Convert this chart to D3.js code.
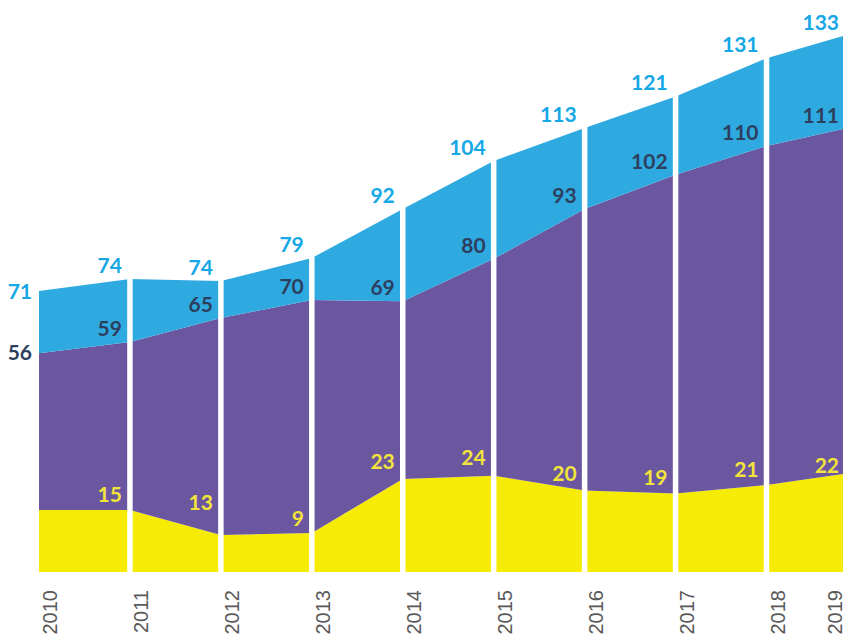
<!DOCTYPE html>
<html>
<head>
<meta charset="utf-8">
<script src="https://cdn.jsdelivr.net/npm/d3@7/dist/d3.min.js"></script>
<style>
  html, body { margin: 0; padding: 0; background: #ffffff; }
  svg { display: block; }
</style>
</head>
<body>
<svg id="chart" width="851" height="639"></svg>
<script>
// ---- data ----
const years = [2010, 2011, 2012, 2013, 2014, 2015, 2016, 2017, 2018, 2019];
// layer thicknesses as drawn
const yellowVals = [15.4, 15.4, 9.2, 9.7, 23.1, 23.9, 20.2, 19.5, 21.6, 24.3];
const purpleVals = [38.9, 41.7, 53.8, 57.8, 44.1, 53.8, 69.9, 79.1, 84.1, 85.6];
const blueVals   = [15.4, 15.6, 9.2, 10.4, 22.9, 24.3, 20.1, 19.4, 21.8, 23.1];
// value labels as printed
const totalLabels = [71, 74, 74, 79, 92, 104, 113, 121, 131, 133];
const midLabels   = [56, 59, 65, 70, 69, 80, 93, 102, 110, 111];
const baseLabels  = [null, 15, 13, 9, 23, 24, 20, 19, 21, 22];
const yearLabels  = years.map(String);

// ---- setup ----
const svg = d3.select("#chart");
const colors = { yellow: "#F6EB05", purple: "#6B56A0", blue: "#2EAAE1" };
const labelColors = { yellow: "#F2E43A", purple: "#2C3F5E", blue: "#16A8E6" };

const x = d3.scaleLinear()
  .domain([2010, 2018, 2019])
  .range([39, 766.5, 843]);
const y = d3.scaleLinear().domain([0, 133]).range([572, 36]);

const table = years.map((yr, i) => ({
  year: yr, yellow: yellowVals[i], purple: purpleVals[i], blue: blueVals[i]
}));
const keys = ["yellow", "purple", "blue"];
const stacked = d3.stack().keys(keys)(table);

const area = d3.area()
  .x(d => x(d.data.year))
  .y0(d => y(d[0]))
  .y1(d => y(d[1]));

svg.append("g").selectAll("path")
  .data(stacked)
  .join("path")
  .attr("d", area)
  .attr("fill", d => colors[d.key]);

// white separators at each inner year
svg.append("g").selectAll("line")
  .data(years.slice(1, -1))
  .join("line")
  .attr("x1", d => x(d)).attr("x2", d => x(d))
  .attr("y1", 0).attr("y2", y(0) + 1)
  .attr("stroke", "#ffffff")
  .attr("stroke-width", 5.5);

// ---- value labels ----
const labelFont = "Lato, 'Open Sans', sans-serif";
const last = years.length - 1;
function labelX(i) {
  if (i === 0) return x(years[i]) - 7;
  if (i === last) return x(years[i]) - 4;
  return x(years[i]) - 8;
}
const gl = svg.append("g")
  .attr("font-family", labelFont)
  .attr("font-weight", 700)
  .attr("font-size", 21)
  .attr("text-anchor", "end");

const topLayer = stacked[2], midLayer = stacked[1];
gl.selectAll("text.tot")
  .data(totalLabels)
  .join("text")
  .attr("class", "tot")
  .attr("x", (d, i) => labelX(i))
  .attr("y", (d, i) => i === 0 ? y(topLayer[i][1]) + 8 : y(topLayer[i][1]) - 6)
  .attr("fill", labelColors.blue)
  .text(d => d);

gl.selectAll("text.mid")
  .data(midLabels)
  .join("text")
  .attr("class", "mid")
  .attr("x", (d, i) => labelX(i))
  .attr("y", (d, i) => i === 0 ? y(midLayer[i][1]) + 7 : y(midLayer[i][1]) - 6)
  .attr("fill", labelColors.purple)
  .text(d => d);

gl.selectAll("text.base")
  .data(baseLabels.map((v, i) => ({ v, i })).filter(d => d.v !== null))
  .join("text")
  .attr("class", "base")
  .attr("x", d => labelX(d.i))
  .attr("y", d => y(d.v) - 10)
  .attr("fill", labelColors.yellow)
  .text(d => d.v);

// ---- year axis labels (rotated) ----
svg.append("g").selectAll("text")
  .data(yearLabels)
  .join("text")
  .attr("transform", (d, i) => {
    const cx = i === last ? x(years[i]) - 8 : x(years[i]) + 11;
    return `translate(${cx},590) rotate(-90)`;
  })
  .attr("dy", "0.35em")
  .attr("text-anchor", "end")
  .attr("font-family", "'Liberation Sans', Arial, sans-serif")
  .attr("font-size", 20)
  .attr("fill", "#595959")
  .text(d => d);
</script>
</body>
</html>
